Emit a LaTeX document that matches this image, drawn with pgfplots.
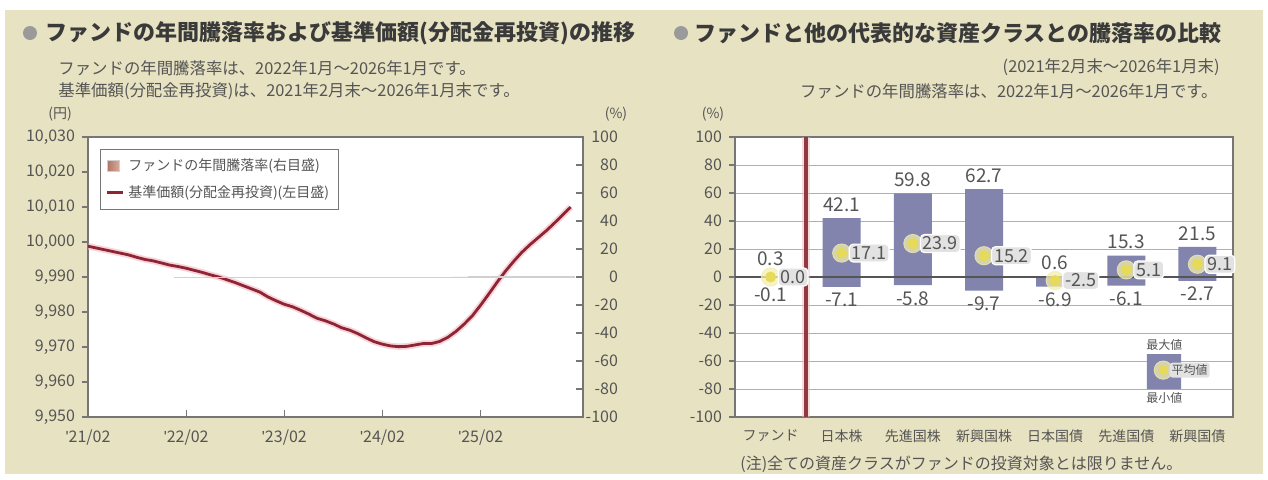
\documentclass[border=0pt]{standalone}
\usepackage{pgfplots}
\pgfplotsset{compat=1.18}
\usepackage{fontspec}
\setmainfont{Noto Sans CJK JP}
\newfontfamily\lf{Liberation Sans}

\definecolor{bg}{HTML}{E7E2C1}
\definecolor{framegray}{HTML}{767676}
\definecolor{tickgray}{HTML}{555555}
\definecolor{titlegray}{HTML}{3A3A3A}
\definecolor{bulletgray}{HTML}{9A9A9A}
\definecolor{navred}{HTML}{8E2434}
\definecolor{navglow}{HTML}{F2B8C0}
\definecolor{fundbarA}{HTML}{B07868}
\definecolor{fundbarB}{HTML}{DDAA9A}
\definecolor{barfill}{HTML}{8284AD}
\definecolor{dotyel}{HTML}{E6DA58}
\definecolor{dotglow}{HTML}{F3EEB0}
\definecolor{boxgray}{HTML}{E2E2E2}
\definecolor{gridgray}{HTML}{B0B0B0}
\definecolor{divred}{HTML}{8E3A40}

\begin{document}
\begin{tikzpicture}
\useasboundingbox (0,0) rectangle (634pt,239.5pt);
\fill[white] (0,0) rectangle (634pt,239.5pt);
\fill[bg] (2.5pt,2.5pt) rectangle (631.5pt,234.5pt);

% titles
\fill[bulletgray] (15pt,223pt) circle (3.5pt);
\node[anchor=west, text=titlegray, inner sep=0pt, font=\fontsize{11}{13}\selectfont\bfseries]
  at (22.5pt,223pt) {ファンドの年間騰落率および基準価額(分配金再投資)の推移};
\node[anchor=west, text=tickgray, inner sep=0pt, font=\fontsize{8.2}{9}\selectfont]
  at (29pt,205.5pt) {ファンドの年間騰落率は、2022年1月～2026年1月です。};
\node[anchor=west, text=tickgray, inner sep=0pt, font=\fontsize{8.2}{9}\selectfont]
  at (29pt,194pt) {基準価額(分配金再投資)は、2021年2月末～2026年1月末です。};
\node[text=tickgray, inner sep=0pt, font=\fontsize{7}{8}\selectfont] at (30pt,182.5pt) {(円)};
\node[text=tickgray, inner sep=0pt, font=\fontsize{7}{8}\selectfont] at (308pt,182.5pt) {(\%)};

\fill[bulletgray] (340.5pt,223pt) circle (3.5pt);
\node[anchor=west, text=titlegray, inner sep=0pt, font=\fontsize{11}{13}\selectfont\bfseries]
  at (347pt,223pt) {ファンドと他の代表的な資産クラスとの騰落率の比較};
\node[anchor=east, text=tickgray, inner sep=0pt, font=\fontsize{8.2}{9}\selectfont]
  at (610pt,206pt) {(2021年2月末～2026年1月末)};
\node[anchor=east, text=tickgray, inner sep=0pt, font=\fontsize{8.2}{9}\selectfont]
  at (609pt,194pt) {ファンドの年間騰落率は、2022年1月～2026年1月です。};
\node[text=tickgray, inner sep=0pt, font=\fontsize{7}{8}\selectfont] at (356.5pt,182.5pt) {(\%)};
\node[anchor=west, text=tickgray, inner sep=0pt, font=\fontsize{8}{9}\selectfont]
  at (370pt,7.5pt) {(注)全ての資産クラスがファンドの投資対象とは限りません。};

% ---- left chart: NAV (left scale)
\begin{axis}[
    at={(44pt,31pt)}, anchor=south west, scale only axis,
    width=247.5pt, height=140pt,
    xmin=0, xmax=60.5, ymin=9950, ymax=10030,
    ytick={9950,9960,9970,9980,9990,10000,10010,10020,10030},
    scaled y ticks=false,
    /pgf/number format/.cd, fixed, 1000 sep={,}, assume math mode=true, /pgfplots/.cd,
    xtick={0,12,24,36,48},
    xticklabels={{\lf '}21/02,{\lf '}22/02,{\lf '}23/02,{\lf '}24/02,{\lf '}25/02},
    xtick style={draw=none},
    ytick pos=left, tick align=outside, major tick length=3pt,
    y tick style={framegray, line width=0.6pt},
    axis line style={framegray, line width=0.8pt},
    tick label style={font=\fontsize{8}{9}\selectfont, text=tickgray},
    axis background/.style={fill=white},
  ]
  \addplot[navglow, line width=3.2pt, opacity=0.6] coordinates {
    (0,9998.8) (1,9998.3) (2,9997.8) (3,9997.3) (4,9996.8) (5,9996.3)
    (6,9995.6) (7,9995.0) (8,9994.6) (9,9994.0) (10,9993.4) (11,9993.0)
    (12,9992.5) (13,9991.9) (14,9991.3) (15,9990.6) (16,9990.0) (17,9989.2)
    (18,9988.4) (19,9987.5) (20,9986.6) (21,9985.7) (22,9984.3) (23,9983.2)
    (24,9982.2) (25,9981.5) (26,9980.5) (27,9979.4) (28,9978.2) (29,9977.5)
    (30,9976.6) (31,9975.5) (32,9974.8) (33,9973.8) (34,9972.6) (35,9971.5)
    (36,9970.8) (37,9970.3) (38,9970.1) (39,9970.2) (40,9970.6) (41,9971.0)
    (42,9971.0) (43,9971.6) (44,9972.8) (45,9974.5) (46,9976.6) (47,9979.0)
    (48,9982.0) (49,9985.2) (50,9988.5) (51,9991.6) (52,9994.4) (53,9997.0)
    (54,9999.2) (55,10001.2) (56,10003.2) (57,10005.4) (58,10007.7) (59,10010.0)
  };
  \addplot[navred, line width=1.4pt] coordinates {
    (0,9998.8) (1,9998.3) (2,9997.8) (3,9997.3) (4,9996.8) (5,9996.3)
    (6,9995.6) (7,9995.0) (8,9994.6) (9,9994.0) (10,9993.4) (11,9993.0)
    (12,9992.5) (13,9991.9) (14,9991.3) (15,9990.6) (16,9990.0) (17,9989.2)
    (18,9988.4) (19,9987.5) (20,9986.6) (21,9985.7) (22,9984.3) (23,9983.2)
    (24,9982.2) (25,9981.5) (26,9980.5) (27,9979.4) (28,9978.2) (29,9977.5)
    (30,9976.6) (31,9975.5) (32,9974.8) (33,9973.8) (34,9972.6) (35,9971.5)
    (36,9970.8) (37,9970.3) (38,9970.1) (39,9970.2) (40,9970.6) (41,9971.0)
    (42,9971.0) (43,9971.6) (44,9972.8) (45,9974.5) (46,9976.6) (47,9979.0)
    (48,9982.0) (49,9985.2) (50,9988.5) (51,9991.6) (52,9994.4) (53,9997.0)
    (54,9999.2) (55,10001.2) (56,10003.2) (57,10005.4) (58,10007.7) (59,10010.0)
  };
\end{axis}

% ---- left chart: annual return bars (right scale) + legend
\begin{axis}[
    at={(44pt,31pt)}, anchor=south west, scale only axis,
    width=247.5pt, height=140pt,
    xmin=0, xmax=60.5, ymin=-100, ymax=100,
    ytick={-100,-80,...,100},
    /pgf/number format/assume math mode=true,
    axis y line*=right, axis x line*=bottom,
    xtick={12,24,36,48}, xticklabels={},
    tick align=inside, major tick length=3.5pt,
    tick style={framegray, line width=0.6pt},
    axis line style={framegray, line width=0.8pt},
    tick label style={font=\fontsize{8}{9}\selectfont, text=tickgray},
    yticklabel style={anchor=east, xshift=21pt},
    legend style={at={(rel axis cs:0.024,0.957)}, anchor=north west,
      draw=framegray, fill=white, line width=0.6pt,
      font=\fontsize{7}{8}\selectfont, text=tickgray,
      row sep=2pt, inner sep=2.5pt},
    legend cell align=left,
  ]
  \addplot[ybar, bar width=4.1pt, bar shift=0pt, fill=fundbarB, draw=gridgray!60, line width=0.4pt,
    legend image code/.code={\shade[left color=fundbarA, right color=fundbarB] (0pt,-2.9pt) rectangle (5.8pt,2.9pt);}]
  coordinates {
    (11,-0.06) (12,-0.06) (13,-0.06) (14,-0.07) (15,-0.07) (16,-0.07) (17,-0.07)
    (18,-0.07) (19,-0.08) (20,-0.08) (21,-0.08) (22,-0.09) (23,-0.10) (24,-0.10)
    (25,-0.10) (26,-0.11) (27,-0.11) (28,-0.12) (29,-0.12) (30,-0.12) (31,-0.12)
    (32,-0.12) (33,-0.12) (34,-0.12) (35,-0.12) (36,-0.11) (37,-0.11) (38,-0.10)
    (39,-0.09) (40,-0.08) (41,-0.07) (42,-0.06) (43,-0.04) (44,-0.02) (45,0.01)
    (46,0.04) (47,0.08) (48,0.11) (49,0.15) (50,0.18) (51,0.21) (52,0.24)
    (53,0.26) (54,0.28) (55,0.30) (56,0.30) (57,0.31) (58,0.31) (59,0.31)
  };
  \addlegendentry{ファンドの年間騰落率(右目盛)}
  \addlegendimage{navred, line width=1.4pt,
    legend image code/.code={\draw[navred, line width=1.4pt] (-0.5pt,0pt) -- (7.5pt,0pt);}}
  \addlegendentry{基準価額(分配金再投資)(左目盛)}
\end{axis}

% ---- right chart: comparison of asset classes
\begin{axis}[
    at={(367.5pt,31pt)}, anchor=south west, scale only axis,
    width=249pt, height=140pt,
    xmin=-0.5, xmax=6.5, ymin=-100, ymax=100,
    ytick={-100,-80,...,100},
    /pgf/number format/assume math mode=true,
    xtick={0,...,6},
    xticklabels={ファンド,日本株,先進国株,新興国株,日本国債,先進国債,新興国債},
    xtick style={draw=none},
    ytick pos=left, tick align=outside, major tick length=3pt,
    y tick style={framegray, line width=0.6pt},
    ymajorgrids, grid style={gridgray, line width=0.5pt},
    axis line style={framegray, line width=0.8pt},
    tick label style={font=\fontsize{8}{9}\selectfont, text=tickgray},
    xticklabel style={font=\fontsize{7}{8}\selectfont},
    axis background/.style={fill=white},
  ]
  % max part of the range bars
  \addplot[ybar, bar width=19pt, bar shift=0pt, draw=none, fill=barfill]
    coordinates {(0,0.3) (1,42.1) (2,59.8) (3,62.7) (4,0.6) (5,15.3) (6,21.5)};
  % min part of the range bars
  \addplot[ybar, bar width=19pt, bar shift=0pt, draw=none, fill=barfill]
    coordinates {(0,-0.1) (1,-7.1) (2,-5.8) (3,-9.7) (4,-6.9) (5,-6.1) (6,-2.7)};
  % zero line
  \addplot[tickgray, line width=0.8pt] coordinates {(-0.5,0) (6.5,0)};
  % divider between fund and asset classes
  \addplot[navglow, line width=4pt, opacity=0.5] coordinates {(0.5,-100) (0.5,100)};
  \addplot[divred, line width=2pt] coordinates {(0.5,-100) (0.5,100)};
  % max labels
  \addplot[draw=none, nodes near coords, point meta=explicit symbolic,
    every node near coord/.append style={anchor=south, yshift=2pt, inner sep=1pt,
      text=tickgray, font=\fontsize{9.5}{10}\selectfont}]
    coordinates {(1,42.1)[42.1] (2,59.8)[59.8] (3,62.7)[62.7]
                 (4,0.6)[0.6] (5,15.3)[15.3] (6,21.5)[21.5]};
  \addplot[draw=none, nodes near coords, point meta=explicit symbolic,
    every node near coord/.append style={anchor=south, yshift=4pt, inner sep=1pt,
      text=tickgray, font=\fontsize{9.5}{10}\selectfont}]
    coordinates {(0,0.3)[0.3]};
  % min labels
  \addplot[draw=none, nodes near coords, point meta=explicit symbolic,
    every node near coord/.append style={anchor=north, yshift=-2pt, inner sep=1pt,
      text=tickgray, font=\fontsize{9.5}{10}\selectfont}]
    coordinates {(1,-7.1)[-7.1] (2,-5.8)[-5.8] (3,-9.7)[-9.7]
                 (4,-6.9)[-6.9] (5,-6.1)[-6.1] (6,-2.7)[-2.7]};
  \addplot[draw=none, nodes near coords, point meta=explicit symbolic,
    every node near coord/.append style={anchor=north, yshift=-4pt, inner sep=1pt,
      text=tickgray, font=\fontsize{9.5}{10}\selectfont}]
    coordinates {(0,-0.1)[-0.1]};
  % legend sample (max / average / min)
  \addplot[draw=none, fill=barfill]
    coordinates {(5.29,-55) (5.77,-55) (5.77,-80) (5.29,-80) (5.29,-55)};
  % average markers
  \addplot[only marks, color=dotglow, mark=*, mark size=4.6pt,
    mark options={fill=dotglow, draw=dotglow, opacity=0.75}]
    coordinates {(0,0.0) (1,17.1) (2,23.9) (3,15.2) (4,-2.5) (5,5.1) (6,9.1) (5.52,-66.5)};
  \addplot[only marks, color=dotyel, mark=*, mark size=2.5pt,
    mark options={fill=dotyel, draw=dotyel},
    nodes near coords, point meta=explicit symbolic,
    every node near coord/.append style={anchor=west, xshift=3.5pt, inner sep=1.2pt,
      fill=boxgray, draw=white, line width=0.6pt, rounded corners=2pt,
      text=tickgray, font=\fontsize{9}{10}\selectfont}]
    coordinates {(0,0.0)[0.0] (1,17.1)[17.1] (2,23.9)[23.9] (3,15.2)[15.2]
                 (4,-2.5)[-2.5] (5,5.1)[5.1] (6,9.1)[9.1]};
  \addplot[only marks, color=dotyel, mark=*, mark size=2.2pt,
    mark options={fill=dotyel, draw=dotyel},
    nodes near coords, point meta=explicit symbolic,
    every node near coord/.append style={anchor=west, xshift=3pt, inner sep=1pt,
      fill=boxgray, rounded corners=1.5pt, text=tickgray, font=\fontsize{6}{7}\selectfont}]
    coordinates {(5.52,-66.5)[平均値]};
  \node[anchor=south west, inner sep=1pt, text=tickgray, font=\fontsize{6}{7}\selectfont]
    at (axis cs:5.25,-54) {最大値};
  \node[anchor=north west, inner sep=1pt, text=tickgray, font=\fontsize{6}{7}\selectfont]
    at (axis cs:5.25,-81) {最小値};
\end{axis}
\end{tikzpicture}
\end{document}
